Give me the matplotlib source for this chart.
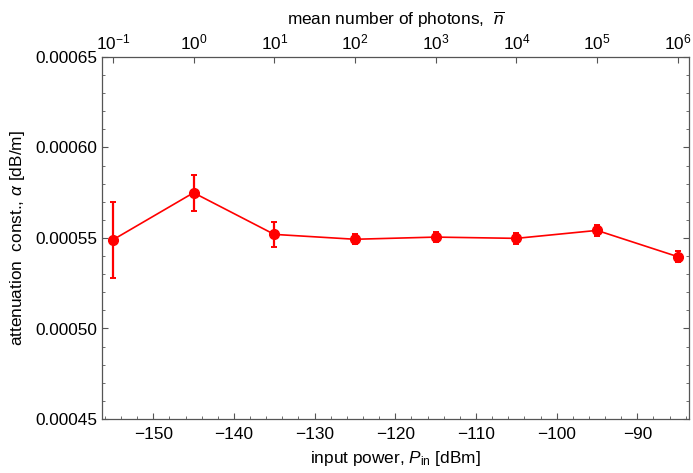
import numpy as np
import matplotlib.pyplot as plt
from matplotlib.ticker import MultipleLocator, FixedLocator, NullLocator, FormatStrFormatter

plt.rcParams['font.family'] = 'Liberation Sans'
plt.rcParams['mathtext.fontset'] = 'custom'
plt.rcParams['mathtext.rm'] = 'Liberation Sans'
plt.rcParams['mathtext.it'] = 'Liberation Sans:italic'
plt.rcParams['axes.unicode_minus'] = True

# input power sweep and the fitted attenuation constant
power_dbm = [-155, -145, -135, -125, -115, -105, -95, -85]
alpha = [0.0005490, 0.0005750, 0.0005520, 0.0005493, 0.0005505, 0.0005498, 0.0005542, 0.0005397]
alpha_err = [0.0000210, 0.0000100, 0.0000068, 0.0000028, 0.0000028, 0.0000030, 0.0000031, 0.0000030]

# power at which the mean photon number is 1
P_ONE_PHOTON = -145.0
photon_decades = [-1, 0, 1, 2, 3, 4, 5, 6]

GREY = '#555555'
RED = '#ff0000'

fig = plt.figure(figsize=(6.93, 4.73), dpi=100)
ax = fig.add_axes([102 / 693, 1 - 419 / 473, 587 / 693, 362 / 473])

ax.errorbar(power_dbm, alpha, yerr=alpha_err, color=RED, marker='o', markersize=7,
            linewidth=1.2, elinewidth=1.6, capsize=2.5, capthick=1.4, zorder=3)

ax.set_xlim(-156.35, -83.6)
ax.set_ylim(0.00045, 0.00065)

ax.xaxis.set_major_locator(MultipleLocator(10))
ax.xaxis.set_minor_locator(MultipleLocator(2))
ax.yaxis.set_major_locator(MultipleLocator(0.00005))
ax.yaxis.set_minor_locator(MultipleLocator(0.00001))
ax.yaxis.set_major_formatter(FormatStrFormatter('%.5f'))

ax.tick_params(which='both', direction='in', colors=GREY, labelcolor='black',
               labelsize=12.4, right=True, top=False)
ax.tick_params(which='major', length=4, width=0.8)
ax.tick_params(which='minor', length=2, width=0.6)
ax.tick_params(axis='x', pad=6)
for sp in ax.spines.values():
    sp.set_color(GREY)
    sp.set_linewidth(0.9)

ax.set_xlabel(r'input power, $P_{\mathrm{in}}$ [dBm]', fontsize=12.4, labelpad=5)
ax.set_ylabel(r'attenuation  const., $\alpha$ [dB/m]', fontsize=12.4, labelpad=6)

# top axis: mean photon number, one decade per 10 dB
top = ax.twiny()
top.set_xlim(ax.get_xlim())
top.xaxis.set_major_locator(FixedLocator([P_ONE_PHOTON + 10 * d for d in photon_decades]))
top.xaxis.set_minor_locator(NullLocator())
top.set_xticklabels([r'$10^{%d}$' % d for d in photon_decades])
top.tick_params(direction='in', colors=GREY, labelcolor='black', labelsize=12.4,
                length=4, width=0.8, pad=3)
for sp in top.spines.values():
    sp.set_visible(False)
top.set_xlabel(r'mean number of photons,  $\overline{n}$', fontsize=12.4, labelpad=6)

fig.savefig('out.png', dpi=100)
